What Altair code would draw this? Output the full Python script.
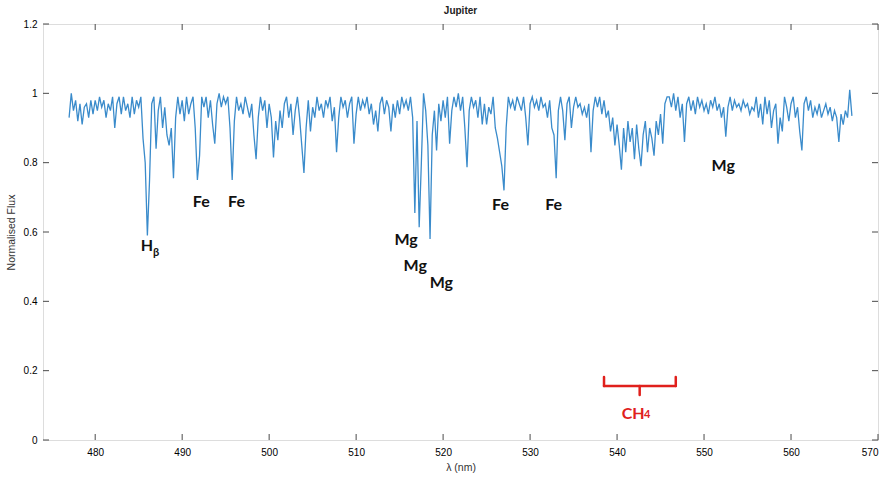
import altair as alt
import pandas as pd

# ---------------- data ----------------
lam_start = 477.0
lam_step = 0.25
flux = [
    0.93, 1.00, 0.95, 0.98,   # 477
    0.92, 0.97, 0.91, 0.96,   # 478
    0.97, 0.93, 0.98, 0.94,   # 479
    0.98, 0.95, 0.99, 0.96,   # 480
    0.98, 0.93, 0.97, 0.95,   # 481
    0.99, 0.90, 0.97, 0.99,   # 482
    0.94, 0.99, 0.95, 0.97,   # 483
    0.93, 0.99, 0.94, 0.98,   # 484
    0.96, 0.99, 0.87, 0.80,   # 485
    0.59, 0.75, 0.97, 0.99,   # 486
    0.84, 0.95, 0.99, 0.90,   # 487
    0.96, 0.88, 0.85, 0.90,   # 488
    0.755, 0.93, 0.99, 0.94,  # 489
    0.98, 0.92, 0.99, 0.94,   # 490
    0.97, 0.99, 0.90, 0.75,   # 491
    0.82, 0.99, 0.96, 0.99,   # 492
    0.93, 0.98, 0.91, 0.855,  # 493
    0.97, 1.00, 0.96, 0.99,   # 494
    0.97, 0.99, 0.90, 0.75,   # 495
    0.92, 0.99, 0.95, 0.97,   # 496
    0.94, 0.99, 0.96, 0.93,   # 497
    0.97, 0.88, 0.81, 0.93,   # 498
    0.99, 0.95, 0.98, 0.90,   # 499
    0.97, 0.93, 0.815, 0.92,  # 500
    0.865, 0.95, 0.90, 0.97,  # 501
    0.99, 0.93, 0.97, 0.88,   # 502
    0.95, 0.99, 0.93, 0.85,   # 503
    0.77, 0.90, 0.98, 0.89,   # 504
    0.96, 0.93, 0.99, 0.95,   # 505
    0.97, 0.93, 0.98, 0.96,   # 506
    0.99, 0.92, 0.96, 0.83,   # 507
    0.93, 0.99, 0.96, 0.98,   # 508
    0.93, 0.97, 0.99, 0.855,  # 509
    0.94, 0.99, 0.95, 0.98,   # 510
    0.96, 0.99, 0.94, 0.97,   # 511
    0.91, 0.95, 0.89, 0.97,   # 512
    0.99, 0.94, 0.98, 0.96,   # 513
    0.89, 0.97, 0.93, 0.98,   # 514
    0.94, 0.99, 0.96, 0.98,   # 515
    0.95, 0.99, 0.93, 0.655,  # 516
    0.92, 0.614, 0.80, 1.00,  # 517
    0.95, 0.85, 0.58, 0.88,   # 518
    0.95, 0.835, 0.97, 0.92,  # 519
    0.98, 0.93, 0.99, 0.855,  # 520
    0.95, 0.99, 0.96, 1.00,   # 521
    0.95, 0.99, 0.90, 0.787,  # 522
    0.95, 0.99, 0.96, 0.98,   # 523
    0.93, 0.99, 0.91, 0.97,   # 524
    0.91, 0.96, 0.94, 0.99,   # 525
    0.90, 0.87, 0.83, 0.79,   # 526
    0.72, 0.90, 0.99, 0.96,   # 527
    0.98, 0.95, 0.99, 0.97,   # 528
    0.95, 0.99, 0.93, 0.85,   # 529
    0.97, 0.99, 0.96, 0.98,   # 530
    0.95, 0.99, 0.96, 0.97,   # 531
    0.93, 0.98, 0.90, 0.88,   # 532
    0.755, 0.95, 0.99, 0.95,  # 533
    0.865, 0.97, 0.99, 0.90,  # 534
    0.96, 0.99, 0.96, 0.97,   # 535
    0.94, 0.96, 0.93, 0.97,   # 536
    0.83, 0.95, 0.99, 0.96,   # 537
    0.99, 0.94, 0.98, 0.93,   # 538
    0.95, 0.89, 0.93, 0.85,   # 539
    0.91, 0.85, 0.78, 0.90,   # 540
    0.83, 0.92, 0.86, 0.90,   # 541
    0.81, 0.91, 0.84, 0.79,   # 542
    0.88, 0.92, 0.83, 0.90,   # 543
    0.87, 0.82, 0.92, 0.88,   # 544
    0.94, 0.855, 0.97, 0.99,  # 545
    0.99, 0.96, 1.00, 0.95,   # 546
    0.99, 0.93, 0.97, 0.86,   # 547
    0.97, 0.99, 0.95, 0.98,   # 548
    0.94, 0.99, 0.96, 0.98,   # 549
    0.95, 0.97, 0.94, 0.98,   # 550
    0.96, 0.99, 0.95, 0.97,   # 551
    0.93, 0.96, 0.875, 0.96,  # 552
    0.99, 0.95, 0.98, 0.96,   # 553
    0.97, 0.95, 0.98, 0.96,   # 554
    0.97, 0.94, 0.96, 0.95,   # 555
    0.99, 0.93, 0.97, 0.91,   # 556
    0.99, 0.94, 0.98, 0.90,   # 557
    0.95, 0.97, 0.855, 0.93,  # 558
    0.89, 0.99, 0.96, 0.92,   # 559
    0.97, 0.99, 0.93, 0.96,   # 560
    0.89, 0.835, 0.97, 0.99,  # 561
    0.95, 0.98, 0.93, 0.96,   # 562
    0.94, 0.97, 0.93, 0.95,   # 563
    0.97, 0.94, 0.96, 0.92,   # 564
    0.95, 0.93, 0.86, 0.94,   # 565
    0.91, 0.95, 0.93, 1.01,   # 566
    0.935,                    # 567
]
wavelength = [lam_start + lam_step * i for i in range(len(flux))]

x_ticks = [480, 490, 500, 510, 520, 530, 540, 550, 560, 570]
y_ticks = [0, 0.2, 0.4, 0.6, 0.8, 1.0, 1.2]

# line labels (black)
label_text = ["H", "Fe", "Fe", "Mg", "Mg", "Mg", "Fe", "Fe", "Mg"]
label_lam = [485.95, 492.2, 496.25, 515.75, 516.8, 519.8, 526.6, 532.7, 552.2]
label_flux = [0.559, 0.687, 0.687, 0.576, 0.501, 0.452, 0.679, 0.679, 0.789]
sub_text = ["β"]
sub_lam = [487.0]
sub_flux = [0.540]

# CH4 band bracket (red)
band_lo, band_hi, band_mid = 538.5, 546.75, 542.6
band_level, band_top, band_tip = 0.1556, 0.1816, 0.1297
ch_text = ["CH"]
ch_lam = [541.85]
ch_flux = [0.076]
ch_sub = ["4"]
ch_sub_lam = [543.45]
ch_sub_flux = [0.071]

# ---------------- chart ----------------
W, H = 835, 416
AX = "#4a4a4a"
LINE = "#3a8bcb"
RED = "#e0201c"
FONT = "Liberation Sans"
LFONT = "Lato"

xs = alt.Scale(domain=[474, 570], nice=False, zero=False)
ys = alt.Scale(domain=[0, 1.2], nice=False, zero=False)

x_axis = alt.Axis(values=x_ticks, title="λ (nm)", grid=False, ticks=False,
                  domain=False, labelPadding=7, titlePadding=5, format="d",
                  titleFontWeight="normal", titleFont=FONT, titleFontSize=10.5,
                  titleColor="#333333")
y_axis = alt.Axis(values=y_ticks, title="Normalised Flux", grid=False, ticks=False,
                  domain=False, labelPadding=6, titlePadding=7, format="~g",
                  titleFontWeight="normal", titleFont=FONT, titleFontSize=10.5,
                  titleColor="#333333")


def X(field):
    return alt.X(field, scale=xs, axis=x_axis, title="λ (nm)")


def Y(field):
    return alt.Y(field, scale=ys, axis=y_axis, title="Normalised Flux")


spec = pd.DataFrame({"lam": wavelength, "flux": flux})

line = alt.Chart(spec).mark_line(color=LINE, strokeWidth=1.3).encode(
    x=X("lam:Q"), y=Y("flux:Q"))

xt = pd.DataFrame({"t": x_ticks})
yt = pd.DataFrame({"t": y_ticks})
tick_len = 6
xb = alt.Chart(xt).mark_rule(color=AX, strokeWidth=1).encode(
    x=X("t:Q"), y=alt.value(H), y2=alt.value(H - tick_len))
xtop = alt.Chart(xt).mark_rule(color=AX, strokeWidth=1).encode(
    x=X("t:Q"), y=alt.value(0), y2=alt.value(tick_len))
yl = alt.Chart(yt).mark_rule(color=AX, strokeWidth=1).encode(
    y=Y("t:Q"), x=alt.value(0), x2=alt.value(tick_len))
yr = alt.Chart(yt).mark_rule(color=AX, strokeWidth=1).encode(
    y=Y("t:Q"), x=alt.value(W), x2=alt.value(W - tick_len))

labels = alt.Chart(pd.DataFrame({"t": label_text, "lam": label_lam, "flux": label_flux})).mark_text(
    font=LFONT, fontWeight="bold", fontSize=16, color="#111111", align="center", baseline="middle"
).encode(x=X("lam:Q"), y=Y("flux:Q"), text="t:N")

subs = alt.Chart(pd.DataFrame({"t": sub_text, "lam": sub_lam, "flux": sub_flux})).mark_text(
    font=LFONT, fontWeight="bold", fontSize=11, color="#111111", align="center", baseline="middle"
).encode(x=X("lam:Q"), y=Y("flux:Q"), text="t:N")

br = pd.DataFrame({
    "x1": [band_lo, band_lo, band_hi, band_mid],
    "x2": [band_hi, band_lo, band_hi, band_mid],
    "y1": [band_level, band_level, band_level, band_level],
    "y2": [band_level, band_top, band_top, band_tip],
})
bracket = alt.Chart(br).mark_rule(color=RED, strokeWidth=2.5, strokeCap="round").encode(
    x=X("x1:Q"), x2="x2:Q", y=Y("y1:Q"), y2="y2:Q")

ch = alt.Chart(pd.DataFrame({"t": ch_text, "lam": ch_lam, "flux": ch_flux})).mark_text(
    font=LFONT, fontWeight="bold", fontSize=16, color=RED, align="center", baseline="middle"
).encode(x=X("lam:Q"), y=Y("flux:Q"), text="t:N")
ch4 = alt.Chart(pd.DataFrame({"t": ch_sub, "lam": ch_sub_lam, "flux": ch_sub_flux})).mark_text(
    font=LFONT, fontWeight="bold", fontSize=11, color=RED, align="center", baseline="middle"
).encode(x=X("lam:Q"), y=Y("flux:Q"), text="t:N")

chart = alt.layer(line, xb, xtop, yl, yr, labels, subs, bracket, ch, ch4).properties(
    width=W, height=H,
    title=alt.TitleParams("Jupiter", fontSize=10, fontWeight="bold", font=FONT,
                          color="#222222", offset=3, anchor="middle"),
    autosize=alt.AutoSizeParams(type="none"),
    padding={"left": 43, "top": 24, "right": 10, "bottom": 40},
).configure_view(
    stroke=AX, strokeWidth=1
).configure_axis(
    labelFont=FONT, labelFontSize=10, labelColor="#444444"
).configure(background="white")

chart.save("out.html", embed_options={"renderer": "svg", "actions": False})
